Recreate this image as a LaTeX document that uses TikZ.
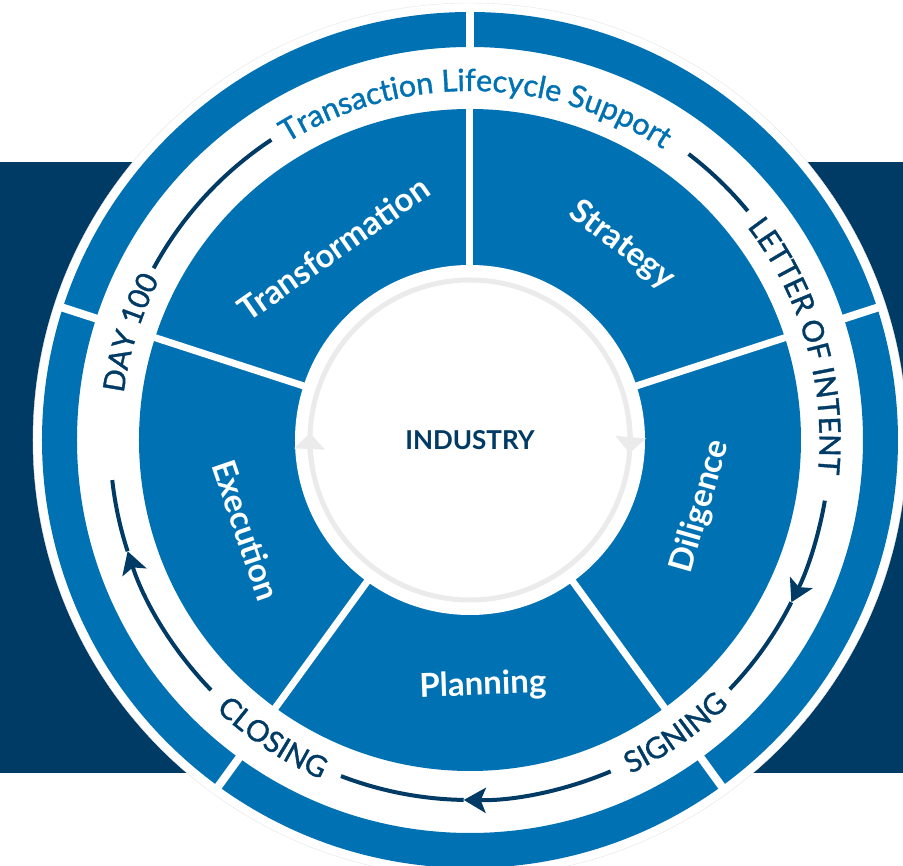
\documentclass[tikz,border=0pt]{standalone}
\usepackage{fontspec}
\setmainfont{Lato}
\newfontfamily\trackfont{Lato}[FakeBold=1.2]
\usetikzlibrary{decorations.text, arrows.meta}

\definecolor{ringblue}{RGB}{0,114,180}
\definecolor{deepnavy}{RGB}{0,59,101}
\definecolor{softgray}{RGB}{235,235,235}

\newcommand{\ringcaps}{\trackfont\fontsize{29.5}{34}\selectfont\color{deepnavy}}
\newcommand{\ringtitle}{\trackfont\fontsize{30.5}{36}\selectfont\color{ringblue}}

\tikzstyle{segment} = [fill=ringblue]
\tikzstyle{divider} = [white, line width=7pt]
\tikzstyle{gap} = [white, line width=8pt]
\tikzstyle{phase} = [text=white, font=\fontsize{33}{40}\selectfont\bfseries]
\tikzstyle{hub} = [circle, fill=white, minimum size=350pt, inner sep=0pt, text=deepnavy, font=\fontsize{26}{30}\selectfont\bfseries]
\tikzstyle{cycleline} = [deepnavy, line width=4pt]
\tikzstyle{cyclearrow} = [cycleline, -{Stealth[length=22pt, width=25pt, inset=5pt]}]
\tikzstyle{hubring} = [softgray, line width=5pt]
\tikzstyle{hubarrow} = [hubring, -{Triangle[length=16pt, width=30pt]}]

\begin{document}
\begin{tikzpicture}[x=1pt, y=1pt]
            \useasboundingbox (-470,-426) rectangle (433,440);
            \clip (-470,-426) rectangle (433,440);

            % backdrop band and outer disc
            \fill[deepnavy] (-470,-333) rectangle (433,278);
            \draw[black!10, fill=white] (0,0) circle (437);

            % outer ring, cut in five
            \fill[segment, even odd rule] (0,0) circle (428) circle (393);
            \draw[gap] (90:388) -- (90:433);
            \draw[gap] (18:388) -- (18:433);
            \draw[gap] (-54:388) -- (-54:433);
            \draw[gap] (-126:388) -- (-126:433);
            \draw[gap] (162:388) -- (162:433);

            % the five phases
            \fill[segment] (0,0) circle (331);
            \draw[divider] (0,0) -- (90:333);
            \draw[divider] (0,0) -- (18:333);
            \draw[divider] (0,0) -- (-54:333);
            \draw[divider] (0,0) -- (-126:333);
            \draw[divider] (0,0) -- (162:333);

            \node[phase, rotate=35] (transformation) at (125.5:235) {Transformation};
            \node[phase, rotate=-37] (strategy) at (52:247) {Strategy};
            \node[phase, rotate=74] (diligence) at (-16:240) {Diligence};
            \node[phase, rotate=2] (planning) at (-87:246) {Planning};
            \node[phase, rotate=-71] (execution) at (202:241) {Execution};

            % hub with its grey loop
            \node[hub] (industry) at (0,0) {};
            \draw[hubring] (0,0) circle (160);
            \draw[hubarrow] (8:160) arc[start angle=8, end angle=-4.7, radius=160];
            \draw[hubarrow] (190:160) arc[start angle=190, end angle=177.5, radius=160];
            \node[text=deepnavy, font=\fontsize{26}{30}\selectfont\bfseries] (hublabel) at (industry.center) {INDUSTRY};

            % lifecycle track
            \draw[cycleline] (151.5:360) arc[start angle=151.5, end angle=123.5, radius=360];
            \draw[cycleline] (52.6:360) arc[start angle=52.6, end angle=39.5, radius=360];
            \draw[cyclearrow] (-9.7:360) arc[start angle=-9.7, end angle=-26.8, radius=360];
            \draw[cycleline] (-26.8:360) arc[start angle=-26.8, end angle=-43.8, radius=360];
            \draw[cyclearrow] (-67:360) arc[start angle=-67, end angle=-91, radius=360];
            \draw[cycleline] (-91:360) arc[start angle=-91, end angle=-111, radius=360];
            \draw[cyclearrow] (224:360) arc[start angle=224, end angle=198, radius=360];
            \draw[cycleline] (198:360) arc[start angle=198, end angle=186.4, radius=360];

            % track labels
            \path[decorate, decoration={text along path, text align=center,
                text={|\ringtitle|Transaction Lifecycle Support}}]
                (149:349) arc[start angle=149, end angle=29, radius=349];
            \path[decorate, decoration={text along path, text align=center,
                text={|\ringcaps|LETTER OF INTENT}}]
                (66:349.5) arc[start angle=66, end angle=-34, radius=349.5];
            \path[decorate, decoration={text along path, text align=center,
                text={|\ringcaps|SIGNING}}]
                (-85:370.5) arc[start angle=-85, end angle=-25, radius=370.5];
            \path[decorate, decoration={text along path, text align=center,
                text={|\ringcaps|CLOSING}}]
                (-153.5:370.5) arc[start angle=-153.5, end angle=-93.5, radius=370.5];
            \path[decorate, decoration={text along path, text align=center,
                text={|\ringcaps|DAY 100}}]
                (192.5:349.5) arc[start angle=192.5, end angle=132.5, radius=349.5];
\end{tikzpicture}
\end{document}
